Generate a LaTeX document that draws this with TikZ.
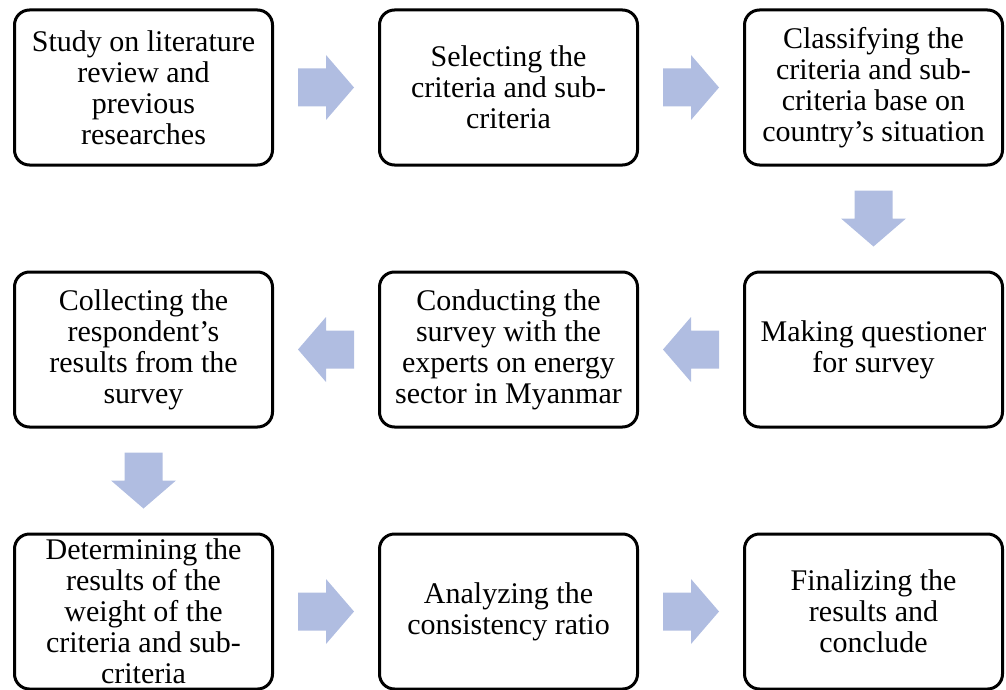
\documentclass[tikz,border=0pt]{standalone}
\usepackage{fontspec}
\setmainfont{Liberation Serif}
\usepackage{xcolor}
\usepackage{tikz}
\usetikzlibrary{positioning, calc}

\definecolor{arrowblue}{RGB}{176,189,225}

\begin{document}
\begin{tikzpicture}[
    x=1pt, y=-1pt,
    node distance=104pt,
    stepbox/.style={rectangle, draw=black, line width=3pt, rounded corners=15pt, align=center, minimum width=258pt, minimum height=155pt, inner sep=0pt, font=\fontsize{30}{31}\selectfont},
    blockarr/.pic={\fill[arrowblue] (-28,-19) -- (0,-19) -- (0,-32.5) -- (28,0) -- (0,32.5) -- (0,19) -- (-28,19) -- cycle;}
]
\useasboundingbox (0,0) rectangle (1006,690);

\node[stepbox] (study) at (143.5,87.5) {Study on literature\\review and\\previous\\researches};
\node[stepbox, right=of study] (select) {Selecting the\\criteria and sub-\\criteria};
\node[stepbox, right=of select] (classify) {Classifying the\\criteria and sub-\\criteria base on\\country’s situation};
\node[stepbox, below=of classify] (making) {Making questioner\\for survey};
\node[stepbox, left=of making] (conduct) {Conducting the\\survey with the\\experts on energy\\sector in Myanmar};
\node[stepbox, left=of conduct] (collect) {Collecting the\\respondent’s\\results from the\\survey};
\node[stepbox, below=of collect] (determine) {Determining the\\results of the\\weight of the\\criteria and sub-\\criteria};
\node[stepbox, right=of determine] (analyze) {Analyzing the\\consistency ratio};
\node[stepbox, right=of analyze] (finalize) {Finalizing the\\results and\\conclude};

% block arrows between the steps
\pic at ($(study)!0.5!(select)$) {blockarr};
\pic at ($(select)!0.5!(classify)$) {blockarr};
\pic[rotate=-90] at ($(classify)!0.5!(making)$) {blockarr};
\pic[rotate=180] at ($(making)!0.5!(conduct)$) {blockarr};
\pic[rotate=180] at ($(conduct)!0.5!(collect)$) {blockarr};
\pic[rotate=-90] at ($(collect)!0.5!(determine)$) {blockarr};
\pic at ($(determine)!0.5!(analyze)$) {blockarr};
\pic at ($(analyze)!0.5!(finalize)$) {blockarr};

\end{tikzpicture}
\end{document}
